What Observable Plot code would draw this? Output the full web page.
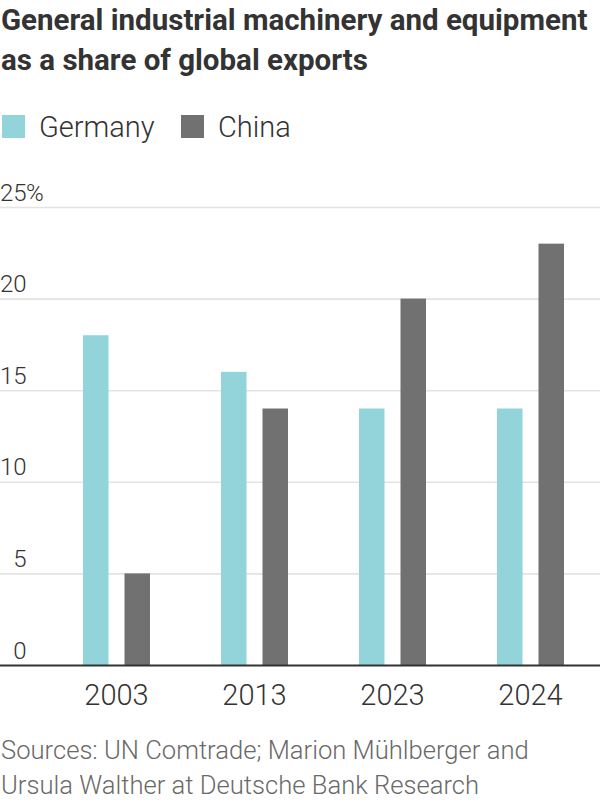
<!DOCTYPE html>
<html><head>
<meta charset="utf-8">
<script src="https://cdn.jsdelivr.net/npm/d3@7"></script>
<script src="https://cdn.jsdelivr.net/npm/@observablehq/plot@0.6"></script>
<style>
  body { margin: 0; background: #fff; }
  #wrap { position: relative; width: 600px; height: 800px; overflow: hidden; font-family: Roboto, sans-serif; color: #333; }
  #title { position: absolute; left: 1px; top: 0; font-weight: 700; font-size: 29.5px; line-height: 40px; white-space: nowrap; color: #333; }
  #legend { position: absolute; left: 0; top: 110px; height: 34px; font-weight: 300; font-size: 29px; line-height: 34px; white-space: nowrap; }
  .sw { position: absolute; top: 5px; width: 23px; height: 23px; }
  .lt { position: absolute; top: 0; }
  #chart { position: absolute; left: 0; top: 170px; }
  #caption { position: absolute; left: 1px; top: 733px; font-weight: 300; font-size: 25.6px; line-height: 35px; color: #696969; white-space: nowrap; }
</style>
</head><body>
<div id="wrap">
  <div id="title">General industrial machinery and equipment<br>as a share of global exports</div>
  <div id="legend"></div>
  <div id="chart"></div>
  <div id="caption">Sources: UN Comtrade; Marion Mühlberger and<br>Ursula Walther at Deutsche Bank Research</div>
</div>
<script>
// ---- data ----
const years = ["2003", "2013", "2023", "2024"];
const germany = [18, 16, 14, 14];
const china = [5, 14, 20, 23];
const yTicks = [0, 5, 10, 15, 20, 25];
const seriesNames = ["Germany", "China"];
const seriesColors = ["#92d4d9", "#717171"];

const gData = years.map((y, i) => ({year: y, value: germany[i], country: "Germany"}));
const cData = years.map((y, i) => ({year: y, value: china[i], country: "China"}));

// ---- legend ----
const legend = document.getElementById("legend");
const legendPos = [{sw: 2, tx: 39}, {sw: 181, tx: 218}];
seriesNames.forEach((name, i) => {
  const sw = document.createElement("div");
  sw.className = "sw";
  sw.style.left = legendPos[i].sw + "px";
  sw.style.background = seriesColors[i];
  const t = document.createElement("div");
  t.className = "lt";
  t.style.left = legendPos[i].tx + "px";
  t.textContent = name;
  legend.append(sw, t);
});

// ---- chart ----
const chart = Plot.plot({
  width: 600,
  height: 550,
  marginTop: 37,
  marginBottom: 55,
  marginLeft: 0,
  marginRight: 0,
  style: {fontFamily: "Roboto, sans-serif", fontWeight: 300, fontSize: "24px", color: "#333", background: "transparent", overflow: "visible"},
  x: {type: "band", domain: years, range: [46, 600], padding: 0},
  y: {domain: [0, 25], axis: null},
  color: {domain: seriesNames, range: seriesColors},
  marks: [
    Plot.ruleY(yTicks.filter(d => d > 0), {stroke: "#e3e3e3", strokeWidth: 1.6}),
    Plot.barY(gData, {x: "year", y: "value", fill: "country", insetLeft: 36, insetRight: 76.5}),
    Plot.barY(cData, {x: "year", y: "value", fill: "country", insetLeft: 77.5, insetRight: 35}),
    Plot.ruleY([0], {stroke: "#333", strokeWidth: 2}),
    Plot.text(yTicks, {y: d => d, text: d => String(d), frameAnchor: "left", textAnchor: "end", lineAnchor: "bottom", dx: 26, dy: -7, fill: "#333", fontSize: 24}),
    Plot.text(yTicks.slice(-1), {y: d => d, text: () => "%", frameAnchor: "left", textAnchor: "start", lineAnchor: "bottom", dx: 25.5, dy: -7, fill: "#333", fontSize: 24}),
    Plot.axisX({tickSize: 0, tickPadding: 19, fontSize: 29, label: null, fill: "#333"})
  ]
});
document.getElementById("chart").append(chart);
</script>
</body></html>
